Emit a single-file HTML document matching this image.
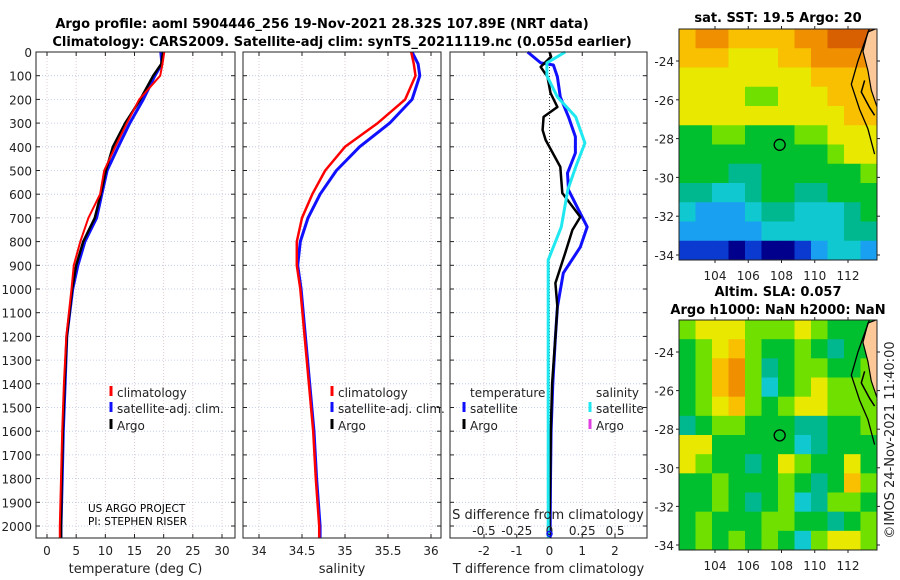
<!DOCTYPE html>
<html><head><meta charset="utf-8">
<style>
body{margin:0;background:#fff;}
svg{display:block;font-family:"DejaVu Sans","Liberation Sans",sans-serif;}
</style></head>
<body>
<svg id="c" width="900" height="580" viewBox="0 0 900 580">
<text x="322" y="28" text-anchor="middle" font-size="13" font-weight="bold">Argo profile: aoml 5904446_256 19-Nov-2021 28.32S 107.89E (NRT data)</text>
<text x="342" y="46" text-anchor="middle" font-size="13" font-weight="bold">Climatology: CARS2009. Satellite-adj clim: synTS_20211119.nc (0.055d earlier)</text>
</svg>
<script>
// ---- data ----
const depths = [0,50,100,200,300,400,500,600,700,800,900,1000,1200,1400,1600,1800,2000,2050];
const tempClim = [20.1,19.8,19.4,15.8,13.7,11.7,9.8,9.1,7.1,5.7,4.6,4.2,3.3,2.9,2.6,2.4,2.2,2.2];
const tempSat  = [19.5,19.7,18.5,16.5,14.2,12.2,10.3,9.4,8.5,6.5,5.3,4.4,3.4,3.1,2.8,2.6,2.4,2.4];
const tempArgo = [19.9,19.6,18.2,16.0,13.4,11.3,10.1,9.2,8.2,6.2,5.0,4.3,3.4,3.0,2.7,2.5,2.4,2.4];
const salClim = [35.77,35.8,35.82,35.7,35.38,35.0,34.77,34.62,34.5,34.44,34.44,34.48,34.53,34.58,34.63,34.66,34.7,34.7];
const salSat  = [35.78,35.85,35.87,35.78,35.52,35.17,34.9,34.71,34.57,34.48,34.45,34.49,34.54,34.59,34.64,34.67,34.71,34.71];
const diffDepths = [0,20,63,105,173,232,274,329,371,485,595,696,751,848,975,1076,1203,1400,1600,1800,2000,2050];
const tDiffArgo = [0,0.05,-0.27,-0.06,0.03,0.24,-0.18,-0.21,-0.12,0.33,0.39,0.94,0.7,0.48,0.18,0.24,0.18,0.08,0.04,0.02,0.0,0.0];
const satDiffDepths = [0,46,55,105,190,274,358,426,511,582,738,823,933,1076,1203,1400,1600,1800,2000,2050];
const tDiffSat = [-0.67,-0.27,0.12,0.24,0.33,0.58,0.79,0.79,0.55,0.58,1.15,0.94,0.42,0.24,0.18,0.1,0.05,0.03,0.02,0.02];
const sDiffDepths = [0,46,100,190,274,384,485,582,738,878,1000,1400,2000,2050];
const sDiffSat = [0.12,-0.02,-0.02,0.06,0.2,0.27,0.2,0.14,0.09,-0.01,-0.01,-0.01,-0.01,-0.01];
const depthTicks = [0,100,200,300,400,500,600,700,800,900,1000,1100,1200,1300,1400,1500,1600,1700,1800,1900,2000];
const tTicks = [0,5,10,15,20,25,30];
const sTicks = [34,34.5,35,35.5,36];
const dTicks = [-2,-1,0,1,2];
const sdTicks = [-0.5,-0.25,0,0.25,0.5];
const latTicks = [-24,-26,-28,-30,-32,-34];
const lonTicks = [104,106,108,110,112];
const sstGrid = [
[8,9,9,8,8,8,8,9,9,10,10,10],
[8,8,8,7,7,7,8,8,9,9,9,9],
[7,7,7,7,7,7,7,7,8,8,8,8],
[7,7,7,7,6,6,7,7,7,8,8,8],
[7,7,7,7,7,7,7,7,7,7,8,8],
[5,5,6,6,5,5,5,6,6,7,7,7],
[5,5,5,5,5,5,5,5,5,6,7,7],
[5,5,5,4,4,5,5,5,5,5,5,6],
[4,4,3,3,4,5,5,4,4,5,5,5],
[3,2,2,2,3,4,4,3,3,3,4,5],
[2,2,2,2,2,3,3,3,3,3,4,4],
[1,1,1,0,1,0,0,1,2,3,3,2]];
const slaGrid = [
[6,7,7,7,6,6,6,7,6,5,5,5],
[5,6,7,8,6,5,5,6,5,4,5,5],
[5,6,8,9,6,4,5,6,6,5,5,6],
[5,6,8,9,6,3,5,6,7,6,6,6],
[5,6,7,8,6,5,6,7,7,6,6,6],
[4,5,6,6,5,5,5,4,4,5,5,6],
[7,7,5,5,5,5,5,3,4,5,5,5],
[7,6,5,5,4,5,7,6,5,5,7,5],
[5,5,6,5,5,5,6,5,4,5,8,6],
[5,5,6,5,4,5,6,3,4,6,6,5],
[5,6,5,5,5,6,6,5,5,4,5,6],
[5,6,5,6,5,6,5,3,6,7,7,6]];
const argoLon = 107.89, argoLat = -28.32;

// ---- drawing ----
const svg = document.getElementById('c');
const NS = 'http://www.w3.org/2000/svg';
function mk(tag, attrs, parent){const e=document.createElementNS(NS,tag);for(const k in attrs)e.setAttribute(k,attrs[k]);(parent||svg).appendChild(e);return e;}
function txt(x,y,s,attrs){const e=mk('text',Object.assign({x:x,y:y,'font-size':12,fill:'#222'},attrs||{}));e.textContent=s;return e;}
const yD = d => 52 + d*0.237;
function lin(d0,d1,r0,r1){return v=>r0+(v-d0)*(r1-r0)/(d1-d0);}
const panels = [
 {name:'temperature-panel',x0:36,x1:235,sx:lin(0,30,47,222),ticks:tTicks,label:'temperature (deg C)'},
 {name:'salinity-panel',x0:243,x1:441,sx:lin(34,36,259,431),ticks:sTicks,label:'salinity'},
 {name:'difference-panel',x0:450,x1:647,sx:lin(-2,2,484,615),ticks:dTicks,label:'T difference from climatology'}];
const yT=52,yB=538;
panels.forEach((p,i)=>{
  const g=mk('g',{});
  
  
  mk('rect',{x:p.x0,y:yT,width:p.x1-p.x0,height:yB-yT,fill:'#fff'},g);
  depthTicks.forEach(d=>{mk('line',{x1:p.x0,x2:p.x1,y1:yD(d),y2:yD(d),stroke:'#b8c4e8','stroke-width':0.8,'stroke-dasharray':'1,2'},g);
    mk('line',{x1:p.x0,x2:p.x0+4,y1:yD(d),y2:yD(d),stroke:'#222'},g);mk('line',{x1:p.x1-4,x2:p.x1,y1:yD(d),y2:yD(d),stroke:'#222'},g);});
  p.ticks.forEach(t=>{const x=p.sx(t);mk('line',{x1:x,x2:x,y1:yT,y2:yB,stroke:'#d8c0c8','stroke-width':0.8,'stroke-dasharray':'1,2'},g);
    mk('line',{x1:x,x2:x,y1:yB,y2:yB-4,stroke:'#222'},g);mk('line',{x1:x,x2:x,y1:yT,y2:yT+4,stroke:'#222'},g);
    const l=txt(x,555,String(t),{'text-anchor':'middle'});});
  const xl=txt((p.x0+p.x1)/2,573,p.label,{'text-anchor':'middle','font-size':13});
  
});
depthTicks.forEach(d=>{const l=txt(32,yD(d)+5,String(d),{'text-anchor':'end'});});
const zx=panels[2].sx(0);
mk('line',{x1:zx,x2:zx,y1:yT,y2:yB,stroke:'#333','stroke-dasharray':'1,2'});
function line(xs,ds,sx,color,w,name){
  const pts=xs.map((v,i)=>sx(v).toFixed(1)+','+yD(ds[i]).toFixed(1)).join(' ');
  const e=mk('polyline',{points:pts,fill:'none',stroke:color,'stroke-width':w,'stroke-linejoin':'round'});
  
  
}
const P=panels;
line(tempSat,depths,P[0].sx,'#1010ff',3,'temperature-satellite-line');
line(tempArgo,depths,P[0].sx,'#000',2.5,'temperature-argo-line');
line(tempClim,depths,P[0].sx,'#ff0000',2,'temperature-climatology-line');
line(salSat,depths,P[1].sx,'#1010ff',3,'salinity-satellite-line');
line(salClim,depths,P[1].sx,'#ff0000',2.5,'salinity-climatology-line');
line(tDiffSat,satDiffDepths,P[2].sx,'#1010ff',3,'tdiff-satellite-line');
line(tDiffArgo,diffDepths,P[2].sx,'#000',2.5,'tdiff-argo-line');
const sdx=lin(-0.5,0.5,484,615);
line(sDiffSat,sDiffDepths,sdx,'#20e8f0',3,'sdiff-satellite-line');
panels.forEach(p=>mk('rect',{x:p.x0,y:yT,width:p.x1-p.x0,height:yB-yT,fill:'none',stroke:'#222','stroke-width':1}));
const st=txt(548,519,'S difference from climatology',{'text-anchor':'middle','font-size':13});

sdTicks.forEach(t=>{const l=txt(sdx(t),535,String(t),{'text-anchor':'middle'});});
mk('circle',{cx:zx,cy:yD(2050)-4,r:2.5,fill:'none',stroke:'#1010ff','stroke-width':1.5});
function leg(x,y,color,label){const g=mk('g',{});
  mk('line',{x1:x,x2:x,y1:y-11,y2:y-1,stroke:color,'stroke-width':3},g);const t=txt(x+6,y,label,{},g);g.appendChild(t);}
leg(111,397,'#ff0000','climatology');leg(111,413,'#1010ff','satellite-adj. clim.');leg(111,430,'#000','Argo');
leg(332,397,'#ff0000','climatology');leg(332,413,'#1010ff','satellite-adj. clim.');leg(332,430,'#000','Argo');
txt(470,397,'temperature');
leg(464,413,'#1010ff','satellite');leg(464,430,'#000','Argo');
txt(596,397,'salinity');
leg(590,413,'#20e8f0','satellite');leg(590,430,'#e040e0','Argo');
txt(88,512,'US ARGO PROJECT',{'font-size':10.5,fill:'#000'});
txt(88,525,'PI: STEPHEN RISER',{'font-size':10.5,fill:'#000'});

const cmap=['#00008c','#0a3ad0','#1aa0f0','#10c8d0','#00b890','#00c030','#70e000','#e8e800','#f8c000','#f09000','#d86000'];
function map(y0,y1,grid,name,latA,latB){
  const x0=679,x1=877;
  const lx=lin(104,112,715,848), ly=lin(-24,-34,latA,latB);
  const g=mk('g',{});
  const cid='clip'+name;const cp=mk('clipPath',{id:cid},g);mk('rect',{x:x0,y:y0,width:x1-x0,height:y1-y0},cp);
  const gg=mk('g',{'clip-path':'url(#'+cid+')'},g);
  const rows=grid.length,cols=grid[0].length,cw=(x1-x0)/cols,ch=(y1-y0)/rows;
  grid.forEach((r,i)=>r.forEach((v,j)=>{const c=mk('rect',{x:x0+j*cw,y:y0+i*ch,width:cw+0.5,height:ch+0.5,fill:cmap[v]},gg);
    }));
  mk('path',{d:`M${lx(113.8)},${ly(-22.3)} L${lx(113.2)},${ly(-22.5)} L${lx(112.9)},${ly(-23.5)} L${lx(113.2)},${ly(-24.5)} L${lx(113.4)},${ly(-25.5)} L${lx(113.8)},${ly(-26.5)} Z`,fill:'#fcc898',stroke:'#000','stroke-width':1.2},gg);
  mk('path',{d:`M${lx(113.3)},${ly(-22.3)} L${lx(112.6)},${ly(-24)} L${lx(112.2)},${ly(-25.2)} L${lx(112.7)},${ly(-26.5)} L${lx(113.2)},${ly(-27.5)} L${lx(113.6)},${ly(-28.8)}`,fill:'none',stroke:'#000','stroke-width':1.3},gg);
  mk('path',{d:`M${lx(113)},${ly(-25)} L${lx(112.8)},${ly(-25.6)} L${lx(113.3)},${ly(-26.4)} L${lx(113.6)},${ly(-26.8)}`,fill:'none',stroke:'#000','stroke-width':1.5},gg);
  const ac=mk('circle',{cx:lx(argoLon),cy:ly(argoLat),r:5.5,fill:'none',stroke:'#000','stroke-width':1.3},g);
  
  mk('rect',{x:x0,y:y0,width:x1-x0,height:y1-y0,fill:'none',stroke:'#222'},g);
  latTicks.forEach(t=>{mk('line',{x1:x0-3,x2:x0,y1:ly(t),y2:ly(t),stroke:'#222'},g);mk('line',{x1:x1,x2:x1+3,y1:ly(t),y2:ly(t),stroke:'#222'},g);
    const l=txt(x0-5,ly(t)+5,String(t),{'text-anchor':'end'});});
  lonTicks.forEach(t=>{mk('line',{x1:lx(t),x2:lx(t),y1:y1,y2:y1+3,stroke:'#222'},g);mk('line',{x1:lx(t),x2:lx(t),y1:y0-3,y2:y0,stroke:'#222'},g);
    const l=txt(lx(t),y1+20,String(t),{'text-anchor':'middle'});});
}
map(29,260,sstGrid,'sst-map',61,255);
map(320,550,slaGrid,'sla-map',352,545);
txt(778,22,'sat. SST: 19.5 Argo: 20',{'text-anchor':'middle','font-size':13,'font-weight':'bold',fill:'#000'});
txt(778,296,'Altim. SLA: 0.057',{'text-anchor':'middle','font-size':13,'font-weight':'bold',fill:'#000'});
txt(778,314,'Argo h1000: NaN h2000: NaN',{'text-anchor':'middle','font-size':13,'font-weight':'bold',fill:'#000'});
const cr=txt(0,0,'©IMOS 24-Nov-2021 11:40:00',{'text-anchor':'middle','font-size':13,transform:'translate(894,440) rotate(-90)'});

</script>
</body></html>
